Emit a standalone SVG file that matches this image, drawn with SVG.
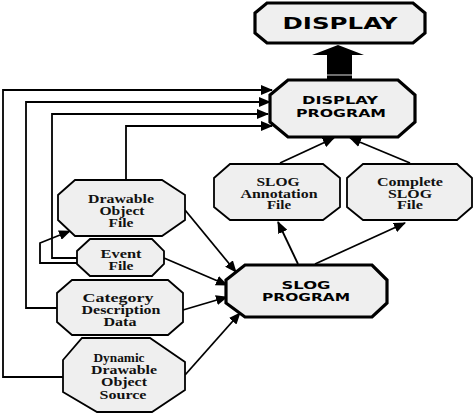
<svg xmlns="http://www.w3.org/2000/svg" width="474" height="415" viewBox="0 0 474 415">
<style>
.n{fill:#efefef;stroke:#000;stroke-width:1.8;stroke-linejoin:miter}
.p{fill:#efefef;stroke:#000;stroke-width:3.2;stroke-linejoin:miter}
.t{font-family:"Liberation Serif",serif;font-weight:bold;font-size:13px;fill:#111;text-anchor:middle}
.b{font-family:"DejaVu Sans",sans-serif;font-weight:bold;fill:#000;text-anchor:middle}
.c{fill:none;stroke:#000;stroke-width:1.8}
</style>
<defs>
<marker id="ah" markerUnits="userSpaceOnUse" markerWidth="12" markerHeight="10" refX="11" refY="5" orient="auto">
<path d="M0,0 L12,5 L0,10 Z" fill="#000"/>
</marker>
</defs>
<rect width="474" height="415" fill="#fff"/>
<g id="connectors">
<path class="c" d="M63,377 H3 V90 H272" marker-end="url(#ah)"/>
<path class="c" d="M57,308 H26 V102 H270" marker-end="url(#ah)"/>
<path class="c" d="M77,258 H52 V114 H268" marker-end="url(#ah)"/>
<path class="c" d="M126,180 V126 H272" marker-end="url(#ah)"/>
<path class="c" d="M77,263 H40 V243 L70,231" marker-end="url(#ah)"/>
<path class="c" d="M185,210 L236,272" marker-end="url(#ah)"/>
<path class="c" d="M164,258 L227,285" marker-end="url(#ah)"/>
<path class="c" d="M183,310 L227,297" marker-end="url(#ah)"/>
<path class="c" d="M185,375 L240,313" marker-end="url(#ah)"/>
<path class="c" d="M298,264 L278,222" marker-end="url(#ah)"/>
<path class="c" d="M315,264 L405,223" marker-end="url(#ah)"/>
<path class="c" d="M280,163 L334,138" marker-end="url(#ah)"/>
<path class="c" d="M410,163 L350,138" marker-end="url(#ah)"/>
<polygon points="338,45 364,55 352,55 352,80 327,80 327,55 312,55" fill="#000"/>
<line x1="327" y1="75" x2="352" y2="75" stroke="#bbb" stroke-width="1.2"/>
</g>
<g id="display">
<polygon class="p" points="267,3 413,3 425,13 425,33 413,43 267,43 255,33 255,13"/>
<text class="b" x="340" y="29" font-size="16.5" textLength="115" lengthAdjust="spacingAndGlyphs">DISPLAY</text>
</g>
<g id="display-program">
<polygon class="p" points="288,80 398,80 415,95 415,122 398,137 288,137 270,122 270,95"/>
<text class="b" x="340" y="104" font-size="11" textLength="76" lengthAdjust="spacingAndGlyphs">DISPLAY</text>
<text class="b" x="341" y="117" font-size="11" textLength="90" lengthAdjust="spacingAndGlyphs">PROGRAM</text>
</g>
<g id="slog-annotation">
<polygon class="n" points="230,164 323,164 340,178 340,207 323,220 230,220 214,207 214,178"/>
<text class="t" x="278" y="186" textLength="43" lengthAdjust="spacingAndGlyphs">SLOG</text>
<text class="t" x="279" y="197.5" textLength="77" lengthAdjust="spacingAndGlyphs">Annotation</text>
<text class="t" x="279" y="209" textLength="24" lengthAdjust="spacingAndGlyphs">File</text>
</g>
<g id="complete-slog">
<polygon class="n" points="363,164 457,164 472,178 472,207 457,220 363,220 347,207 347,178"/>
<text class="t" x="410" y="186" textLength="66" lengthAdjust="spacingAndGlyphs">Complete</text>
<text class="t" x="410" y="197.5" textLength="44" lengthAdjust="spacingAndGlyphs">SLOG</text>
<text class="t" x="410" y="209" textLength="26" lengthAdjust="spacingAndGlyphs">File</text>
</g>
<g id="drawable-object-file">
<polygon class="n" points="75,180 162,180 185,195 185,220 162,236 75,236 58,220 58,195"/>
<text class="t" x="121" y="203" textLength="66" lengthAdjust="spacingAndGlyphs">Drawable</text>
<text class="t" x="122" y="215" textLength="45" lengthAdjust="spacingAndGlyphs">Object</text>
<text class="t" x="121" y="227" textLength="25" lengthAdjust="spacingAndGlyphs">File</text>
</g>
<g id="event-file">
<polygon class="n" points="90,239 152,239 164,251 164,264 152,276 90,276 77,264 77,251"/>
<text class="t" x="121" y="258" textLength="41" lengthAdjust="spacingAndGlyphs">Event</text>
<text class="t" x="121" y="270" textLength="25" lengthAdjust="spacingAndGlyphs">File</text>
</g>
<g id="category-description-data">
<polygon class="n" points="72,280 168,280 183,293 183,322 168,335 72,335 57,322 57,293"/>
<text class="t" x="118" y="302" textLength="71" lengthAdjust="spacingAndGlyphs">Category</text>
<text class="t" x="121" y="314" textLength="79" lengthAdjust="spacingAndGlyphs">Description</text>
<text class="t" x="120" y="326" textLength="33" lengthAdjust="spacingAndGlyphs">Data</text>
</g>
<g id="dynamic-drawable-object-source">
<polygon class="n" points="82,338 150,338 185,362 185,390 152,412 97,412 63,392 63,360"/>
<text class="t" x="119" y="362" textLength="51" lengthAdjust="spacingAndGlyphs">Dynamic</text>
<text class="t" x="124" y="374" textLength="66" lengthAdjust="spacingAndGlyphs">Drawable</text>
<text class="t" x="124" y="386" textLength="46" lengthAdjust="spacingAndGlyphs">Object</text>
<text class="t" x="123" y="399" textLength="47" lengthAdjust="spacingAndGlyphs">Source</text>
</g>
<g id="slog-program">
<polygon class="p" points="245,265 372,265 387,280 387,303 372,317 245,317 226,303 226,280"/>
<text class="b" x="306" y="289" font-size="11" textLength="49" lengthAdjust="spacingAndGlyphs">SLOG</text>
<text class="b" x="306" y="301" font-size="11" textLength="88" lengthAdjust="spacingAndGlyphs">PROGRAM</text>
</g>
</svg>
